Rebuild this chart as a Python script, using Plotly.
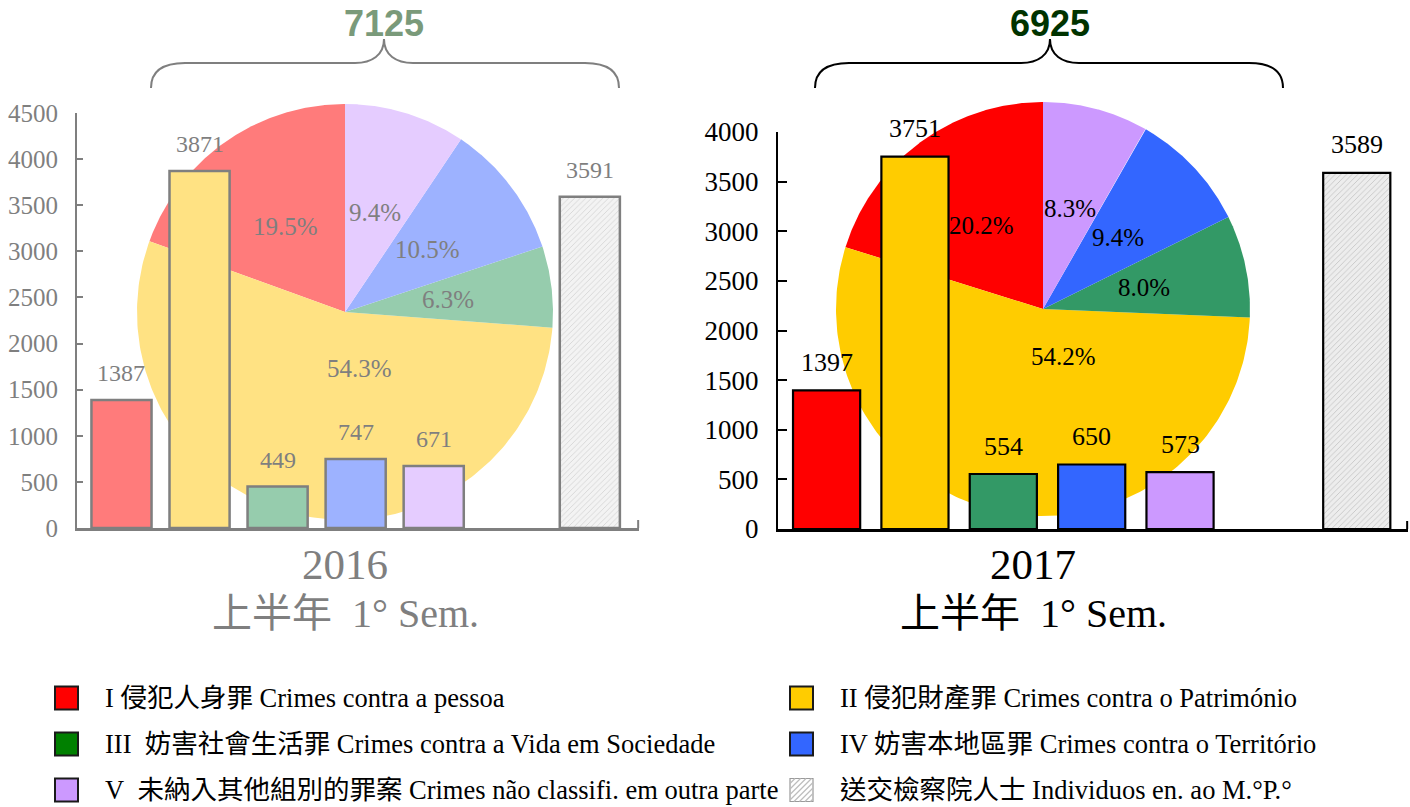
import numpy as np
import plotly.graph_objects as go

W, H = 1410, 807

# ---------------- data ----------------
crime_codes = ["I", "II", "III", "IV", "V"]
slot_order = ["I", "II", "III", "IV", "V", "gap", "MP"]
bar_cats = ["I", "II", "III", "IV", "V", "MP"]
values_2016 = [1387, 3871, 449, 747, 671]
values_2017 = [1397, 3751, 554, 650, 573]
mp_2016 = 3591
mp_2017 = 3589
ticks_2016 = [0, 500, 1000, 1500, 2000, 2500, 3000, 3500, 4000, 4500]
ticks_2017 = [0, 500, 1000, 1500, 2000, 2500, 3000, 3500, 4000]
year_labels = ["2016", "2017"]
period_label = "上半年\u00a0 1° Sem."
legend_labels = [
    "I 侵犯人身罪 Crimes contra a pessoa",
    "II 侵犯財產罪 Crimes contra o Património",
    "III\u00a0 妨害社會生活罪 Crimes contra a Vida em Sociedade",
    "IV 妨害本地區罪 Crimes contra o Território",
    "V\u00a0 未納入其他組別的罪案 Crimes não classifi. em outra parte",
    "送交檢察院人士 Individuos en. ao M.°P.°",
]

# ---------------- styles ----------------
SERIF = "Liberation Serif, Times New Roman, Noto Sans CJK TC, serif"
SANS = "Liberation Sans, Arial, sans-serif"
colors_2017 = ["#FF0000", "#FFCC00", "#339966", "#3366FF", "#CC99FF"]
colors_2016 = ["#FF7B7B", "#FFE283", "#96CCAD", "#9DB2FF", "#E5CCFF"]
legend_colors = ["#FF0000", "#FFCC00", "#008000", "#3366FF", "#CC99FF", "#FFFFFF"]

def px(x):
    return x / W

def py(y):
    return 1 - y / H

panels = [
    dict(values=values_2016, mp=mp_2016, ticks=ticks_2016, ymax=4500, colors=colors_2016,
         mp_fill="#F3F3F3", mp_fg="#E2E2E2", mp_fgop=0.25, edge="#7F7F7F", text="#7F7F7F",
         pie_x=(137, 553), pie_y=(104, 520), bar_x=(77, 639), bar_y=(113, 528),
         xrange=[-0.57, 6.63], bw=0.77, tick_font=25, val_font=24, pct_font=25, val_shift=27,
         big_label_xy=(0.07, -0.27), total_color="#7A9A7A", brace=(151, 384, 619),
         brace_color="#7F7F7F", year=year_labels[0], year_x=345),
    dict(values=values_2017, mp=mp_2017, ticks=ticks_2017, ymax=4000, colors=colors_2017,
         mp_fill="#EDEDED", mp_fg="#D6D6D6", mp_fgop=0.35, edge="#000000", text="#000000",
         pie_x=(836, 1250), pie_y=(102, 516), bar_x=(778, 1408), bar_y=(132, 529),
         xrange=[-0.55, 6.58], bw=0.76, tick_font=27, val_font=26, pct_font=25, val_shift=28,
         big_label_xy=(0.10, -0.23), total_color="#003300", brace=(815, 1050, 1283),
         brace_color="#000000", year=year_labels[1], year_x=1033),
]

fig = go.Figure()
annotations = []
shapes = []
layout_axes = {}

# pies first (axes 1,2) so that bars (axes 3,4) are drawn on top
for i, p in enumerate(panels):
    xa = "x" if i == 0 else "x2"
    ya = "y" if i == 0 else "y2"
    vals = np.array(p["values"], dtype=float)
    total = vals.sum()
    frac = vals / total
    cum = np.concatenate([[0], np.cumsum(frac)])
    for k in range(len(vals)):
        th = np.linspace(np.pi / 2 + 2 * np.pi * cum[k], np.pi / 2 + 2 * np.pi * cum[k + 1], 200)
        xs = np.concatenate([[0], np.cos(th), [0]])
        ys = np.concatenate([[0], np.sin(th), [0]])
        fig.add_trace(go.Scatter(x=xs, y=ys, xaxis=xa, yaxis=ya, mode="lines",
                                 fill="toself", fillcolor=p["colors"][k],
                                 line=dict(width=0, color=p["colors"][k]),
                                 hoverinfo="skip", showlegend=False))
        mid = np.pi / 2 + 2 * np.pi * (cum[k] + cum[k + 1]) / 2
        if crime_codes[k] == "II":
            lx, ly = p["big_label_xy"]
        else:
            lx, ly = 0.5 * np.cos(mid), 0.5 * np.sin(mid)
        annotations.append(dict(x=lx, y=ly, xref=xa, yref=ya, showarrow=False,
                                text=f"{frac[k] * 100:.1f}%",
                                font=dict(family=SERIF, size=p["pct_font"], color=p["text"])))
    n = "" if i == 0 else "2"
    layout_axes["xaxis" + n] = dict(domain=[px(p["pie_x"][0]), px(p["pie_x"][1])], range=[-1, 1],
                                    visible=False, fixedrange=True, automargin=False)
    layout_axes["yaxis" + n] = dict(domain=[py(p["pie_y"][1]), py(p["pie_y"][0])], range=[-1, 1],
                                    visible=False, fixedrange=True, automargin=False)

for i, p in enumerate(panels):
    n = str(i + 3)
    xa, ya = "x" + n, "y" + n
    yvals = list(p["values"]) + [p["mp"]]
    fills = list(p["colors"]) + [p["mp_fill"]]
    fig.add_trace(go.Bar(
        x=bar_cats, y=yvals, xaxis=xa, yaxis=ya, width=p["bw"],
        marker=dict(color=fills, line=dict(color=p["edge"], width=2.5 if i == 0 else 2.2),
                    pattern=dict(shape=[""] * 5 + ["/"], fgcolor=p["mp_fg"],
                                 fgopacity=p["mp_fgop"], bgcolor=p["mp_fill"],
                                 size=4, solidity=0.15)),
        hoverinfo="skip", showlegend=False))
    for c, v in zip(bar_cats, yvals):
        annotations.append(dict(x=c, y=v, xref=xa, yref=ya, yshift=p["val_shift"],
                                showarrow=False, text=str(v), yanchor="middle",
                                font=dict(family=SERIF, size=p["val_font"], color=p["text"])))
    layout_axes["xaxis" + n] = dict(domain=[px(p["bar_x"][0]), px(p["bar_x"][1])],
                                    type="category", categoryorder="array", categoryarray=slot_order,
                                    range=p["xrange"], showticklabels=False, ticks="",
                                    showline=True, linecolor=p["edge"], linewidth=2.5,
                                    showgrid=False, zeroline=False, anchor=ya, fixedrange=True,
                                    automargin=False)
    layout_axes["yaxis" + n] = dict(domain=[py(p["bar_y"][1]), py(p["bar_y"][0])],
                                    range=[0, p["ymax"]], tickvals=p["ticks"],
                                    showline=True, linecolor=p["edge"], linewidth=2,
                                    ticks="inside", ticklen=6 if i == 0 else 9, tickwidth=2,
                                    tickcolor=p["edge"], showgrid=False, zeroline=False,
                                    ticklabelstandoff=12,
                                    tickfont=dict(family=SERIF, size=p["tick_font"], color=p["text"]),
                                    anchor=xa, fixedrange=True, automargin=False)
    # small closing tick at the right end of the category axis
    shapes.append(dict(type="line", xref="paper", yref="paper",
                       x0=px(p["bar_x"][1]) - 0.0006, x1=px(p["bar_x"][1]) - 0.0006,
                       y0=py(p["bar_y"][1]), y1=py(p["bar_y"][1] - 8),
                       line=dict(color=p["edge"], width=2)))

    # total above the brace
    total = sum(p["values"])
    bx0, bxm, bx1 = p["brace"]
    annotations.append(dict(x=px(bxm), y=py(24), xref="paper", yref="paper", showarrow=False,
                            text=f"<b>{total}</b>", xanchor="center", yanchor="middle",
                            font=dict(family=SANS, size=36, color=p["total_color"])))
    ye, yh, ya_ = 88, 63, 39

    def P(x, y):
        return f"{px(x):.5f},{py(y):.5f}"
    path = (f"M{P(bx0, ye)} C{P(bx0, yh + 8)} {P(bx0 + 12, yh)} {P(bx0 + 34, yh)} "
            f"L{P(bxm - 29, yh)} C{P(bxm - 12, yh)} {P(bxm, yh - 8)} {P(bxm, ya_)} "
            f"C{P(bxm, yh - 8)} {P(bxm + 12, yh)} {P(bxm + 29, yh)} "
            f"L{P(bx1 - 34, yh)} C{P(bx1 - 12, yh)} {P(bx1, yh + 8)} {P(bx1, ye)}")
    shapes.append(dict(type="path", xref="paper", yref="paper", path=path,
                       line=dict(color=p["brace_color"], width=2)))

    # year / period labels
    annotations.append(dict(x=px(p["year_x"]), y=py(564), xref="paper", yref="paper",
                            showarrow=False, text=p["year"], xanchor="center", yanchor="middle",
                            font=dict(family=SERIF, size=43, color=p["text"])))
    annotations.append(dict(x=px(p["year_x"]), y=py(613), xref="paper", yref="paper",
                            showarrow=False, text=period_label, xanchor="center", yanchor="middle",
                            font=dict(family=SERIF, size=40, color=p["text"])))

# ---------------- manual legend ----------------
col_box_x = [55, 790]
row_y = [698, 744, 790]
box = 23
for j, (lab, col) in enumerate(zip(legend_labels, legend_colors)):
    cx = col_box_x[j % 2]
    cy = row_y[j // 2]
    x0, x1 = cx, cx + box
    y0, y1 = cy - box / 2, cy + box / 2
    hatched = j == len(legend_labels) - 1
    shapes.append(dict(type="rect", xref="paper", yref="paper",
                       x0=px(x0), x1=px(x1), y0=py(y1), y1=py(y0),
                       fillcolor=col, line=dict(color="#9A9A9A" if hatched else "#1A1A1A",
                                                width=1.2 if hatched else 2)))
    if hatched:
        for c in np.arange(x0 + y0 + 5, x1 + y1, 5.5):
            xa_ = max(x0, c - y1)
            xb_ = min(x1, c - y0)
            if xb_ - xa_ < 1:
                continue
            shapes.append(dict(type="line", xref="paper", yref="paper",
                               x0=px(xa_), y0=py(c - xa_), x1=px(xb_), y1=py(c - xb_),
                               line=dict(color="#BDBDBD", width=1.2)))
    annotations.append(dict(x=px(cx + 48), y=py(cy), xref="paper", yref="paper",
                            showarrow=False, text=lab, xanchor="left", yanchor="middle",
                            font=dict(family=SERIF, size=26.5, color="#000000")))

fig.update_layout(
    width=W, height=H, autosize=False,
    margin=dict(l=0, r=0, t=0, b=0, pad=0, autoexpand=False),
    paper_bgcolor="#FFFFFF", plot_bgcolor="rgba(0,0,0,0)",
    showlegend=False, annotations=annotations, shapes=shapes,
    **layout_axes,
)

fig.write_html("out.html", config={"displayModeBar": False},
               post_script="document.body.style.margin='0px';document.body.style.overflow='hidden';")
